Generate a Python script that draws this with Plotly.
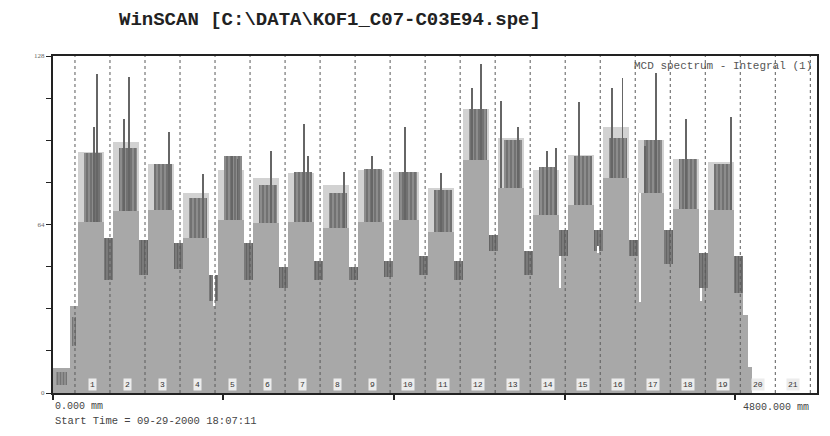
import plotly.graph_objects as go

# ---------------- data ----------------
scan_length_mm = 4800
segment_first_edge_mm = 138
segment_pitch_mm = 220
segment_labels = [str(i) for i in range(1, 22)]

# per filled segment (1..19)
box_top = [91.6, 95.4, 87, 76, 84.7, 81.6, 83.5, 79, 84.7, 84, 78, 108, 97, 84.7, 90.4, 101, 96, 89, 87.7]
dark_top = [91, 93, 87, 74, 90, 79, 84, 76, 85, 84, 77, 108, 96, 86, 90, 97, 96, 89, 87]
base_top = [65, 69, 69.5, 59, 65.7, 64.5, 65, 62.6, 65, 65.7, 61, 88.5, 78, 67.6, 71.4, 81.6, 76, 70, 69.5]
dip_top = [59, 58, 57, 45, 57, 48, 50, 48, 50, 52, 50, 60, 54, 62, 62, 58, 62, 53, 52]
dip_dark_low = [43, 45, 47, 35, 43, 40, 43, 43, 44, 45, 43, 54, 45, 52, 54, 52, 49, 40, 38]

spike_mm = [257, 276, 445, 476, 727, 940, 1122, 1159, 1372, 1579, 1604, 1830, 2005, 2212,
            2437, 2632, 2688, 2813, 2920, 3102, 3158, 3302, 3515, 3578, 3722, 3791, 3979, 4261]
spike_top = [101, 121, 104, 120, 99, 83, 90, 89, 92, 102, 90, 84, 90, 101,
             83.5, 116, 125, 111, 101, 92, 93, 110.5, 116, 119.6, 94, 121.5, 104, 105]

white_mm = [1015, 3189, 3427, 3688, 4073]
white_low = [33, 40, 53, 34.5, 35]
white_high = [45, 52, 56, 76, 40]

lead_edges_mm = [0, 107, 154]
lead_values = [9.5, 33]
lead_dark_low = [3, 18]
lead_dark_top = [8, 29]

tail_edges_mm = [4334, 4367, 4390]
tail_values = [29.6, 10]

y_ticks = [0, 16, 32, 48, 64, 80, 96, 112, 128]
y_ticktext = ["0", "", "", "", "64", "", "", "", "128"]
x_ticks = [0, 1071, 2143, 3214, 4286]

# ---------------- styling ----------------
MED = "#a8a8a8"
LIGHT = "#d2d2d2"
DARK = "#666666"
SPIKE = "#666666"
MONO = "Liberation Mono, Courier New, monospace"

n = len(box_top)
edges = [segment_first_edge_mm + segment_pitch_mm * k for k in range(len(segment_labels) + 1)]
blk_l = [edges[k] + 16 for k in range(n)]
blk_r = [edges[k + 1] - 40 for k in range(n)]
blk_c = [(a + b) / 2 for a, b in zip(blk_l, blk_r)]
blk_w = [b - a for a, b in zip(blk_l, blk_r)]
dip_c = [edges[k + 1] - 12 for k in range(n)]
dip_w = [56] * n

fig = go.Figure()

def bars(x, w, base, h, color, pattern=None):
    m = dict(color=color, line=dict(width=0))
    if pattern:
        m["pattern"] = pattern
    fig.add_trace(go.Bar(x=x, width=w, base=base, y=h, marker=m, hoverinfo="skip", showlegend=False))

# medium base of blocks
bars(blk_c, blk_w, [0] * n, base_top, MED)
# light box
bars(blk_c, blk_w, base_top, [t - b for t, b in zip(box_top, base_top)], LIGHT)
# dark streaky region (sits toward the right of each block)
bars([c + 14 for c in blk_c], [w * 0.68 for w in blk_w], base_top,
     [t - b for t, b in zip(dark_top, base_top)], "#8a8a8a",
     dict(shape="|", fgcolor="#555555", bgcolor="#8e8e8e", size=4, solidity=0.55))
# dips
bars(dip_c, dip_w, [0] * n, dip_dark_low, MED)
bars(dip_c, dip_w, dip_dark_low, [t - l for t, l in zip(dip_top, dip_dark_low)], DARK,
     dict(shape="|", fgcolor="#4a4a4a", bgcolor="#808080", size=3, solidity=0.5))
# lead-in
lc = [(lead_edges_mm[i] + lead_edges_mm[i + 1]) / 2 for i in range(len(lead_values))]
lw = [lead_edges_mm[i + 1] - lead_edges_mm[i] for i in range(len(lead_values))]
bars(lc, lw, [0] * len(lc), lead_values, MED)
bars(lc, [w * 0.6 for w in lw], lead_dark_low, [t - l for t, l in zip(lead_dark_top, lead_dark_low)], DARK,
     dict(shape="|", fgcolor="#555555", bgcolor="#959595", size=3, solidity=0.5))
# tail
tc = [(tail_edges_mm[i] + tail_edges_mm[i + 1]) / 2 for i in range(len(tail_values))]
tw = [tail_edges_mm[i + 1] - tail_edges_mm[i] for i in range(len(tail_values))]
bars(tc, tw, [0] * len(tc), tail_values, MED)
# spikes
sp_base = [base_top[min(n - 1, int((x - segment_first_edge_mm) // segment_pitch_mm))] for x in spike_mm]
bars(spike_mm, [6] * len(spike_mm), sp_base, [t - b for t, b in zip(spike_top, sp_base)], SPIKE)
# white gaps
bars(white_mm, [8] * len(white_mm), white_low, [h - l for h, l in zip(white_high, white_low)], "#ffffff")

# dashed section lines
for e in edges:
    fig.add_shape(type="line", x0=e, x1=e, y0=0, y1=128, xref="x", yref="y",
                  line=dict(color="#5a5a5a", width=1, dash="3px,3px"), layer="above")

# section labels
for k, lab in enumerate(segment_labels):
    fig.add_annotation(x=edges[k] + segment_pitch_mm / 2, y=3.4, xref="x", yref="y", text=lab,
                       showarrow=False, font=dict(family=MONO, size=8, color="#333"),
                       bgcolor="#ececec", borderpad=1, yanchor="middle")

# texts
fig.add_annotation(x=0.363, y=1.107, xref="paper", yref="paper",
                   text="<b>WinSCAN [C:\\DATA\\KOF1_C07-C03E94.spe]</b>", showarrow=False,
                   font=dict(family=MONO, size=19, color="#222"), xanchor="center", yanchor="middle")
fig.add_annotation(x=0.996, y=0.97, xref="paper", yref="paper", text="MCD spectrum - Integral (1)",
                   showarrow=False, font=dict(family=MONO, size=11, color="#555"),
                   xanchor="right", yanchor="middle")
fig.add_annotation(x=0.0, y=-0.039, xref="paper", yref="paper", text="0.000 mm",
                   showarrow=False, font=dict(family=MONO, size=10, color="#444"),
                   xanchor="left", yanchor="middle")
fig.add_annotation(x=0.992, y=-0.042, xref="paper", yref="paper", text="4800.000 mm",
                   showarrow=False, font=dict(family=MONO, size=10, color="#444"),
                   xanchor="right", yanchor="middle")
fig.add_annotation(x=0.0, y=-0.083, xref="paper", yref="paper", text="Start Time = 09-29-2000 18:07:11",
                   showarrow=False, font=dict(family=MONO, size=10.5, color="#444"),
                   xanchor="left", yanchor="middle")

fig.update_layout(
    width=830, height=436,
    margin=dict(l=53, r=11, t=56, b=43),
    paper_bgcolor="white", plot_bgcolor="white",
    barmode="overlay", bargap=0, showlegend=False,
    xaxis=dict(range=[0, scan_length_mm], tickvals=x_ticks, ticktext=[""] * len(x_ticks),
               ticks="outside", ticklen=5, tickwidth=2, tickcolor="#222",
               showgrid=False, zeroline=False, showline=True, mirror=True,
               linewidth=2, linecolor="#222"),
    yaxis=dict(range=[0, 128], tickvals=y_ticks, ticktext=y_ticktext,
               ticks="outside", ticklen=5, tickwidth=1, tickcolor="#222",
               tickfont=dict(family="Liberation Serif", size=7, color="#666"),
               showgrid=False, zeroline=False, showline=True, mirror=True,
               linewidth=2, linecolor="#222"),
)

fig.write_html("out.html")
